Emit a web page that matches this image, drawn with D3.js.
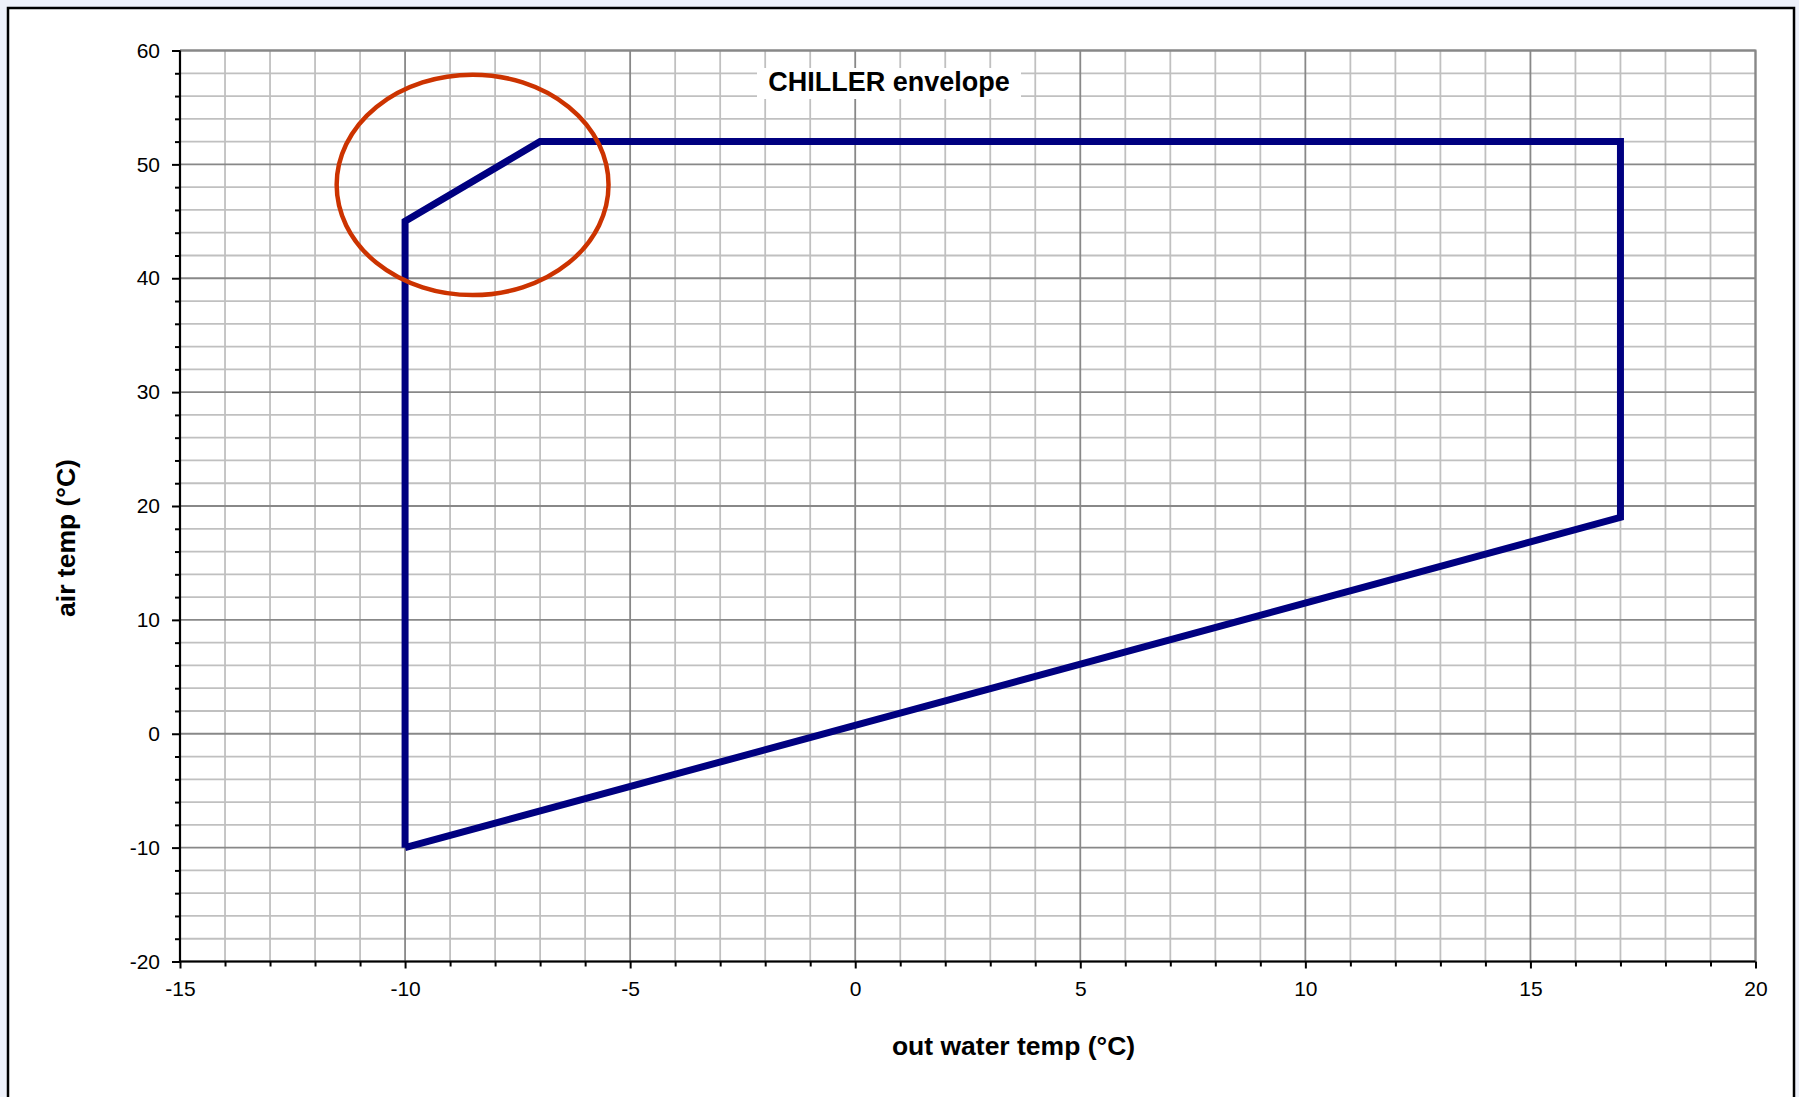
<!DOCTYPE html>
<html>
<head>
<meta charset="utf-8">
<script src="https://cdn.jsdelivr.net/npm/d3@7"></script>
<style>
  html, body { margin: 0; padding: 0; background: #eef1fa; }
  svg { display: block; }
  text { font-family: "Liberation Sans", Arial, Helvetica, sans-serif; fill: #000; }
</style>
</head>
<body>
<svg id="chart" width="1799" height="1097"></svg>
<script>
// Operating envelope outline (closed polygon), outlet water temp vs ambient air temp
const outWaterTemp = [-10, -10, -7, 17, 17, -10];
const airTemp      = [-10, 45, 52, 52, 19, -10];

// Highlight ring around the upper-left corner of the envelope
const ringCenter = [-8.5, 48.2];
const ringRadius = [3.02, 9.68];

// Axis domains and tick spacing
const xDomain = [-15, 20];
const yDomain = [-20, 60];
const xTickValues = d3.range(-15, 21, 1);
const yTickValues = d3.range(-20, 61, 2);
const xLabelStep = 5;
const yLabelStep = 10;

const titleText = "CHILLER envelope";
const xTitle = "out water temp (°C)";
const yTitle = "air temp (°C)";

const svg = d3.select("#chart");
const W = 1799, H = 1097;

// Outer frame
svg.append("rect")
  .attr("x", 8).attr("y", 8)
  .attr("width", 1786).attr("height", H + 20)
  .attr("fill", "#fff").attr("stroke", "#000").attr("stroke-width", 2.5);

const x = d3.scaleLinear().domain(xDomain).range([180, 1755.5]);
const y = d3.scaleLinear().domain(yDomain).range([961.5, 50.5]);

const grid = svg.append("g");
const isMajorX = v => v % xLabelStep === 0;
const isMajorY = v => v % yLabelStep === 0;

// Minor grid first, major grid on top
grid.selectAll("line.vminor")
  .data(xTickValues.filter(v => !isMajorX(v)))
  .join("line")
  .attr("x1", d => x(d)).attr("x2", d => x(d))
  .attr("y1", y(yDomain[0])).attr("y2", y(yDomain[1]))
  .attr("stroke", "#c0c0c0").attr("stroke-width", 1.8);
grid.selectAll("line.hminor")
  .data(yTickValues.filter(v => !isMajorY(v)))
  .join("line")
  .attr("y1", d => y(d)).attr("y2", d => y(d))
  .attr("x1", x(xDomain[0])).attr("x2", x(xDomain[1]))
  .attr("stroke", "#c0c0c0").attr("stroke-width", 1.8);
grid.selectAll("line.vmajor")
  .data(xTickValues.filter(isMajorX))
  .join("line")
  .attr("x1", d => x(d)).attr("x2", d => x(d))
  .attr("y1", y(yDomain[0])).attr("y2", y(yDomain[1]))
  .attr("stroke", "#888").attr("stroke-width", 1.8);
grid.selectAll("line.hmajor")
  .data(yTickValues.filter(isMajorY))
  .join("line")
  .attr("y1", d => y(d)).attr("y2", d => y(d))
  .attr("x1", x(xDomain[0])).attr("x2", x(xDomain[1]))
  .attr("stroke", "#888").attr("stroke-width", 1.8);

// Plot-area border (top and right)
svg.append("path")
  .attr("d", `M${x(xDomain[0])},${y(yDomain[1])}H${x(xDomain[1])}V${y(yDomain[0])}`)
  .attr("fill", "none").attr("stroke", "#888").attr("stroke-width", 2);

// Title with white backing box
const titleG = svg.append("g");
titleG.append("rect")
  .attr("x", 757).attr("y", 68).attr("width", 264).attr("height", 31)
  .attr("fill", "#fff");
titleG.append("text")
  .attr("x", 889).attr("y", 91)
  .attr("text-anchor", "middle")
  .attr("font-size", 27).attr("font-weight", "bold")
  .text(titleText);

// Envelope outline
const pts = outWaterTemp.map((v, i) => [v, airTemp[i]]);
svg.append("path")
  .datum(pts)
  .attr("d", d3.line().x(d => x(d[0])).y(d => y(d[1])))
  .attr("fill", "none")
  .attr("stroke", "#000080")
  .attr("stroke-width", 7)
  .attr("stroke-linejoin", "miter");

// Highlight ring
svg.append("ellipse")
  .attr("cx", x(ringCenter[0])).attr("cy", y(ringCenter[1]))
  .attr("rx", x(ringCenter[0] + ringRadius[0]) - x(ringCenter[0]))
  .attr("ry", y(ringCenter[1] - ringRadius[1]) - y(ringCenter[1]))
  .attr("fill", "none")
  .attr("stroke", "#cc3300")
  .attr("stroke-width", 4.5);

// X axis
const xAxis = svg.append("g")
  .attr("transform", `translate(0,${y(yDomain[0])})`)
  .call(d3.axisBottom(x).tickValues(xTickValues).tickSize(5)
    .tickFormat(d => isMajorX(d) ? d : ""));
xAxis.select(".domain").attr("stroke", "#000").attr("stroke-width", 2.2)
  .attr("d", `M${x(xDomain[0])},0H${x(xDomain[1])}`);
xAxis.selectAll(".tick line").attr("stroke", "#000").attr("stroke-width", 2)
  .attr("y2", d => isMajorX(d) ? 7 : 5);
xAxis.selectAll(".tick text").attr("font-size", 21).attr("y", 20)
  .attr("font-family", "Liberation Sans, Arial, sans-serif").attr("fill", "#000");

// Y axis
const yAxis = svg.append("g")
  .attr("transform", `translate(${x(xDomain[0])},0)`)
  .call(d3.axisLeft(y).tickValues(yTickValues).tickSize(5)
    .tickFormat(d => isMajorY(d) ? d : ""));
yAxis.select(".domain").attr("stroke", "#000").attr("stroke-width", 2.2)
  .attr("d", `M0,${y(yDomain[0])}V${y(yDomain[1])}`);
yAxis.selectAll(".tick line").attr("stroke", "#000").attr("stroke-width", 2)
  .attr("x2", d => isMajorY(d) ? -8 : -5);
yAxis.selectAll(".tick text").attr("font-size", 21).attr("x", -20)
  .attr("font-family", "Liberation Sans, Arial, sans-serif").attr("fill", "#000");

// Axis titles
svg.append("text")
  .attr("x", 1013.5).attr("y", 1055)
  .attr("text-anchor", "middle")
  .attr("font-size", 26.5).attr("font-weight", "bold")
  .text(xTitle);
svg.append("text")
  .attr("transform", "translate(74.5,538) rotate(-90)")
  .attr("text-anchor", "middle")
  .attr("font-size", 26.5).attr("font-weight", "bold")
  .text(yTitle);
</script>
</body>
</html>
